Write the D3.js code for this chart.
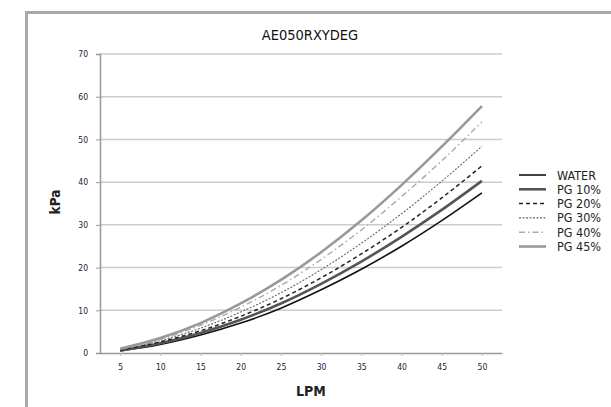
<!DOCTYPE html>
<html>
<head>
<meta charset="utf-8">
<script src="https://cdn.jsdelivr.net/npm/d3@7"></script>
<style>
  body { margin: 0; background: #fff; }
  svg { display: block; }
</style>
</head>
<body>
<svg id="chart"></svg>
<script>
// chart values
const lpm = [5, 10, 15, 20, 25, 30, 35, 40, 45, 50];
const water = [0.5, 2.0, 4.2, 7.0, 10.5, 14.8, 19.6, 25.0, 31.0, 37.5];
const pg10 = [0.6, 2.3, 4.7, 7.8, 11.6, 16.2, 21.4, 27.2, 33.5, 40.3];
const pg20 = [0.7, 2.6, 5.2, 8.6, 12.7, 17.6, 23.2, 29.4, 36.3, 43.8];
const pg30 = [0.8, 2.9, 5.8, 9.6, 14.1, 19.5, 25.7, 32.6, 40.2, 48.4];
const pg40 = [0.9, 3.2, 6.5, 10.7, 15.8, 21.9, 28.8, 36.6, 45.0, 54.1];
const pg45 = [1.0, 3.5, 7.0, 11.6, 17.1, 23.6, 31.0, 39.3, 48.3, 57.8];
const seriesNames = ['WATER', 'PG 10%', 'PG 20%', 'PG 30%', 'PG 40%', 'PG 45%'];
const yTicks = [0, 10, 20, 30, 40, 50, 60, 70];

const width = 611;
const height = 407;
const font = '"DejaVu Sans Condensed", "Liberation Sans Narrow", sans-serif';

// line look for each series
const styles = [
    { color: '#111', w: 1.6, dash: null },
    { color: '#555', w: 2.6, dash: null },
    { color: '#222', w: 1.5, dash: '4,3' },
    { color: '#666', w: 1.1, dash: '2,1.5' },
    { color: '#aaa', w: 1.4, dash: '6,3,1.5,3' },
    { color: '#999', w: 2.6, dash: null }
];

const series = [water, pg10, pg20, pg30, pg40, pg45].map((vals, i) => ({
    name: seriesNames[i],
    values: vals.map((v, j) => ({ x: lpm[j], y: v })),
    style: styles[i]
}));

const svg = d3.select('#chart')
    .attr('width', width)
    .attr('height', height)
    .style('font-stretch', 'condensed');

// frame (top and left border)
svg.append('path')
    .attr('d', `M26.5,${height} V12.5 H${width}`)
    .attr('fill', 'none')
    .attr('stroke', '#aaa')
    .attr('stroke-width', 3);

const margin = { left: 100, right: 502, top: 54, bottom: 353 };

const x = d3.scalePoint()
    .domain(lpm)
    .range([margin.left, margin.right])
    .padding(0.5);

const y = d3.scaleLinear()
    .domain([0, 70])
    .range([margin.bottom, margin.top]);

// grid
svg.append('g')
    .selectAll('line')
    .data(yTicks.filter(d => d > 0))
    .enter().append('line')
    .attr('x1', margin.left)
    .attr('x2', margin.right)
    .attr('y1', d => y(d))
    .attr('y2', d => y(d))
    .attr('stroke', '#ccc')
    .attr('stroke-width', 1.5);

// y axis
const yAxis = svg.append('g')
    .attr('transform', `translate(${margin.left},0)`)
    .call(d3.axisLeft(y).tickValues(yTicks).tickSize(4).tickPadding(8));
yAxis.select('.domain').attr('stroke', '#999').attr('stroke-width', 1.5);
yAxis.selectAll('.tick line').attr('stroke', '#999');
yAxis.selectAll('text')
    .attr('font-family', font)
    .attr('font-size', 8.5)
    .attr('fill', '#223');

// x axis
const xAxis = svg.append('g')
    .attr('transform', `translate(0,${margin.bottom})`)
    .call(d3.axisBottom(x).tickSize(3).tickPadding(8).tickSizeOuter(0));
xAxis.select('.domain').attr('stroke', '#999').attr('stroke-width', 1.5);
xAxis.selectAll('.tick line').attr('stroke', '#bbb');
xAxis.selectAll('text')
    .attr('font-family', font)
    .attr('font-size', 8.5)
    .attr('fill', '#223');

// lines
const line = d3.line()
    .x(d => x(d.x))
    .y(d => y(d.y))
    .curve(d3.curveMonotoneX);

svg.append('g')
    .selectAll('path')
    .data(series)
    .enter().append('path')
    .attr('d', d => line(d.values))
    .attr('fill', 'none')
    .attr('stroke', d => d.style.color)
    .attr('stroke-width', d => d.style.w)
    .attr('stroke-dasharray', d => d.style.dash);

// titles
svg.append('text')
    .attr('x', 310)
    .attr('y', 40)
    .attr('text-anchor', 'middle')
    .attr('font-family', font)
    .attr('font-size', 14.5)
    .attr('fill', '#111')
    .text('AE050RXYDEG');

svg.append('text')
    .attr('x', 311)
    .attr('y', 396)
    .attr('text-anchor', 'middle')
    .attr('font-family', font)
    .attr('font-size', 14)
    .attr('font-weight', 'bold')
    .attr('fill', '#222')
    .text('LPM');

svg.append('text')
    .attr('transform', 'translate(60,202) rotate(-90)')
    .attr('text-anchor', 'middle')
    .attr('font-family', font)
    .attr('font-size', 13.5)
    .attr('font-weight', 'bold')
    .attr('fill', '#222')
    .text('kPa');

// legend
const legend = svg.append('g')
    .selectAll('g')
    .data(series)
    .enter().append('g')
    .attr('transform', (d, i) => `translate(519,${175 + i * 14.3})`);

legend.append('line')
    .attr('x1', 0)
    .attr('x2', 27)
    .attr('stroke', d => d.style.color)
    .attr('stroke-width', d => d.style.w)
    .attr('stroke-dasharray', d => d.style.dash);

legend.append('text')
    .attr('x', 38)
    .attr('y', 4.5)
    .attr('font-family', font)
    .attr('font-size', 12.5)
    .attr('fill', '#222')
    .text(d => d.name);
</script>
</body>
</html>
